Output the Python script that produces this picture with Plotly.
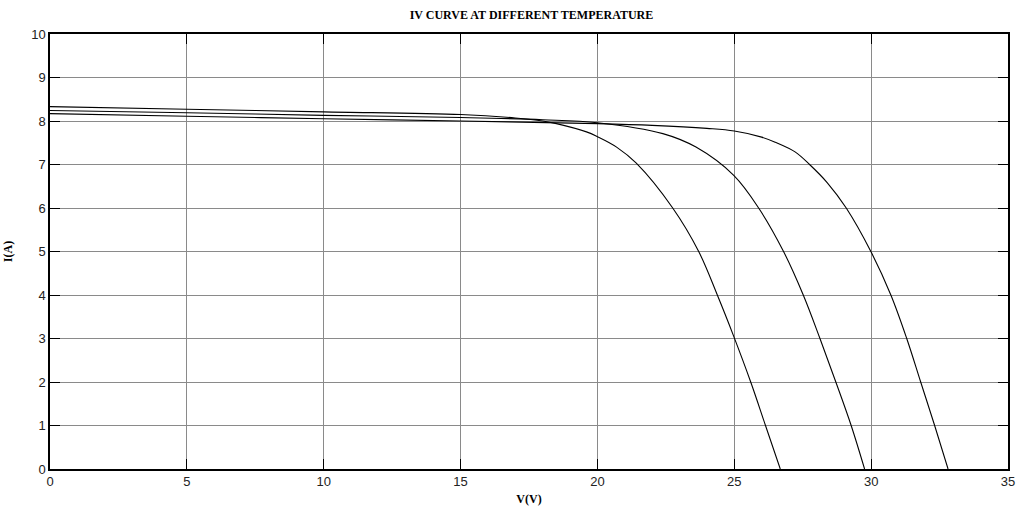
import plotly.graph_objects as go

# Module voltage (V) and current (A) samples for three cell temperatures
v_hot = [0, 5, 10, 15, 17, 18, 18.5, 19.6, 20, 20.7, 21.42, 22.75, 23.7, 24.38, 24.98, 25.6, 26.14, 26.68]
i_hot = [8.33, 8.27, 8.21, 8.15, 8.07, 8.0, 7.94, 7.75, 7.64, 7.40, 7.03, 6.0, 5.0, 4.0, 3.05, 2.0, 1.0, 0.0]

v_mid = [0, 5, 10, 15, 18, 20, 22.39, 23.6, 24.98, 25.89, 26.8, 27.52, 28.13, 28.71, 29.27, 29.76]
i_mid = [8.24, 8.19, 8.13, 8.08, 8.03, 7.96, 7.71, 7.40, 6.75, 6.0, 5.0, 4.0, 3.0, 2.0, 1.0, 0.0]

v_cold = [0, 5, 10, 15, 20, 22, 24, 25, 26, 26.5, 27.22, 27.75, 28.4, 29.09, 29.99, 30.72, 31.3, 31.81, 32.32, 32.81]
i_cold = [8.17, 8.11, 8.05, 8.0, 7.94, 7.90, 7.83, 7.77, 7.63, 7.51, 7.29, 7.0, 6.58, 6.0, 5.0, 4.0, 3.0, 2.0, 1.0, 0.0]

x_ticks = [0, 5, 10, 15, 20, 25, 30, 35]
y_ticks = [0, 1, 2, 3, 4, 5, 6, 7, 8, 9, 10]

fig = go.Figure()
for v, i in [(v_hot, i_hot), (v_mid, i_mid), (v_cold, i_cold)]:
    fig.add_trace(go.Scatter(
        x=v, y=i, mode="lines",
        line=dict(color="black", width=1.1, shape="spline", smoothing=1.0),
        showlegend=False, hoverinfo="x+y",
    ))

axis_common = dict(
    showline=True, linecolor="black", linewidth=1.5, mirror="ticks",
    ticks="inside", ticklen=10, tickcolor="black", tickwidth=1,
    showgrid=True, gridcolor="#8a8a8a", gridwidth=1,
    zeroline=False,
    tickfont=dict(family="Liberation Sans, Arial, sans-serif", size=13, color="#222"),
)

fig.update_xaxes(
    range=[0, 35], tickvals=x_ticks,
    title=dict(text="<b>V(V)</b>", font=dict(family="Liberation Serif, Times New Roman, serif", size=12, color="black"), standoff=6),
    **axis_common,
)
fig.update_yaxes(
    range=[0, 10], tickvals=y_ticks,
    title=dict(text="<b>I(A)</b>", font=dict(family="Liberation Serif, Times New Roman, serif", size=12, color="black"), standoff=16),
    **axis_common,
)

fig.update_layout(
    width=1022, height=515,
    margin=dict(l=49, r=7, t=34, b=46),
    plot_bgcolor="white", paper_bgcolor="white",
    title=dict(
        text="<b>IV CURVE AT DIFFERENT TEMPERATURE</b>",
        font=dict(family="Liberation Serif, Times New Roman, serif", size=12, color="black"),
        x=0.52, xanchor="center", y=0.972, yanchor="middle",
    ),
)

fig.write_html("out.html")
